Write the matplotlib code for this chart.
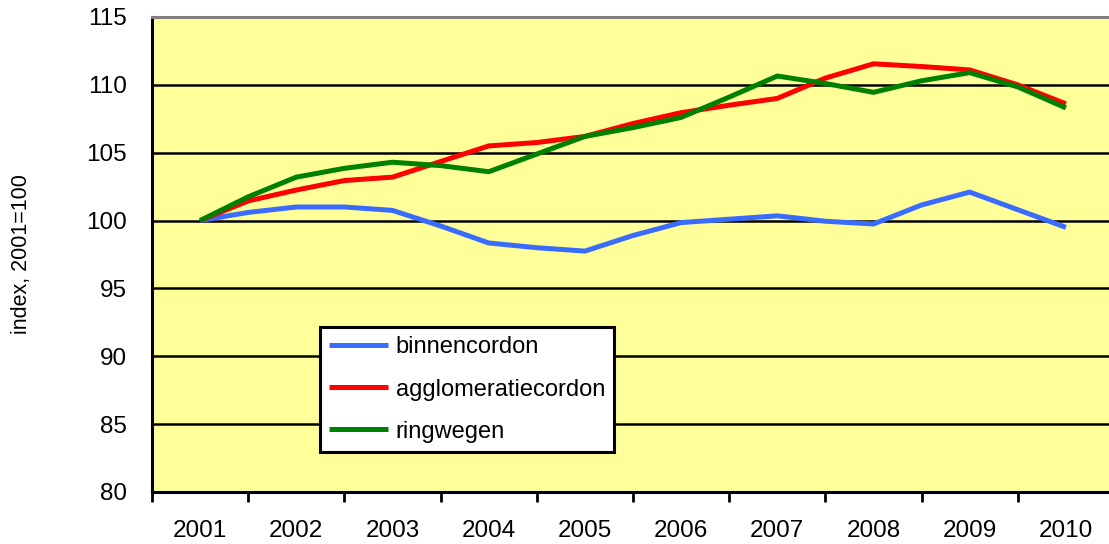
import matplotlib
matplotlib.use("Agg")
import matplotlib.pyplot as plt
from matplotlib.ticker import FixedLocator, NullFormatter

plt.rcParams['font.family'] = ['Liberation Sans', 'DejaVu Sans']

# half-year readings (value index, 2001=100)
t = [2001.0, 2001.5, 2002.0, 2002.5, 2003.0, 2003.5, 2004.0, 2004.5, 2005.0, 2005.5,
     2006.0, 2006.5, 2007.0, 2007.5, 2008.0, 2008.5, 2009.0, 2009.5, 2010.0]
binnencordon = [100.0, 100.6, 101.0, 101.0, 100.75, 99.6, 98.35, 98.0, 97.75, 98.9,
                99.85, 100.1, 100.35, 99.95, 99.75, 101.15, 102.1, 100.8, 99.5]
agglomeratiecordon = [100.0, 101.45, 102.25, 102.95, 103.2, 104.35, 105.5, 105.75, 106.2, 107.15,
                      107.95, 108.5, 109.0, 110.5, 111.55, 111.35, 111.1, 110.0, 108.6]
ringwegen = [100.0, 101.75, 103.2, 103.85, 104.3, 104.05, 103.6, 104.9, 106.2, 106.85,
             107.6, 109.1, 110.65, 110.1, 109.45, 110.3, 110.9, 109.85, 108.3]

years = [2001, 2002, 2003, 2004, 2005, 2006, 2007, 2008, 2009, 2010]
year_labels = [str(y) for y in years]
yticks = [80, 85, 90, 95, 100, 105, 110, 115]

series = [("binnencordon", binnencordon, "#3A6BFF"),
          ("agglomeratiecordon", agglomeratiecordon, "#FF0000"),
          ("ringwegen", ringwegen, "#008000")]

fig = plt.figure(figsize=(11.09, 5.44), dpi=100)
fig.patch.set_facecolor("white")
W, H = 1109, 544
x0, x1, ytop, ybot = 152, 1114, 17, 492
ax = fig.add_axes([x0 / W, (H - ybot) / H, (x1 - x0) / W, (ybot - ytop) / H])
ax.set_facecolor("#FFFF99")

for name, vals, col in series:
    ax.plot(t, vals, color=col, lw=3.6, label=name, solid_capstyle="butt", zorder=3)

ax.set_xlim(years[0] - 0.5, years[-1] + 0.5)
ax.set_ylim(yticks[0], yticks[-1])

ax.xaxis.set_major_locator(FixedLocator([y - 0.5 for y in years] + [years[-1] + 0.5]))
ax.xaxis.set_major_formatter(NullFormatter())
ax.xaxis.set_minor_locator(FixedLocator(years))
ax.set_xticklabels(year_labels, minor=True)
ax.tick_params(axis="x", which="major", length=7, width=2, color="black", direction="out")
ax.tick_params(axis="x", which="minor", length=0, pad=20, labelsize=17.5)

ax.set_yticks(yticks)
ax.tick_params(axis="y", which="major", length=0, pad=18, labelsize=17.5)

for v in yticks[1:-1]:
    ax.axhline(v, color="black", lw=1.8, zorder=2)

for s in ["left", "bottom"]:
    ax.spines[s].set_color("black")
    ax.spines[s].set_linewidth(2.2)
ax.spines["top"].set_color("#808080")
ax.spines["top"].set_linewidth(2.2)
ax.spines["right"].set_visible(False)

ax.set_ylabel("index, 2001=100", fontsize=15.5)
ax.yaxis.set_label_coords((32 - x0) / (x1 - x0), 0.5)

leg = ax.legend(loc="upper left",
                bbox_to_anchor=((320 - x0) / (x1 - x0), (ybot - 327) / (ybot - ytop)),
                fontsize=17, frameon=True, fancybox=False, handlelength=2.5,
                handletextpad=0.3, labelspacing=0.85, borderpad=0.4, borderaxespad=0)
leg.get_frame().set_edgecolor("black")
leg.get_frame().set_linewidth(2.2)
leg.get_frame().set_facecolor("white")
leg.get_frame().set_alpha(1)
leg.set_zorder(5)

fig.savefig("out.png", dpi=100)
